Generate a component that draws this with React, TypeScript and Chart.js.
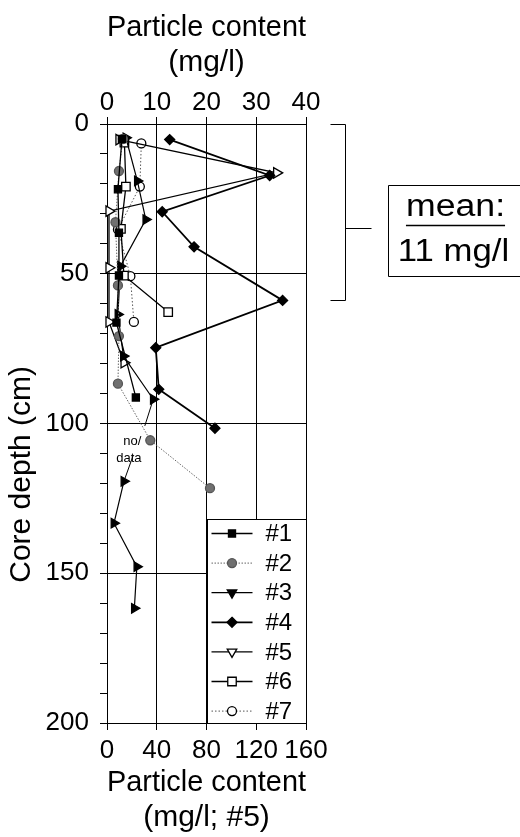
import React, { useEffect, useRef } from 'react';
import { Chart, registerables } from 'chart.js';

Chart.register(...registerables);

const FONT = "'Liberation Sans', Arial, Helvetica, sans-serif";

// ---- data (depth in cm, particle content in mg/l; #5 on its own 0-160 axis) ----
const depth1 = [5, 21.8, 36.3, 50.6, 66.3, 91.3];
const val1 = [3.0, 2.2, 2.4, 2.4, 1.9, 5.8];

const depth2 = [5, 15.7, 32.8, 53.9, 70.8, 86.7, 105.6, 121.6];
const val2 = [3.2, 2.4, 1.7, 2.2, 2.4, 2.2, 8.7, 20.7];

const depth3 = [4.6, 19, 31.9, 47.5, 63.6, 77.5, 91.9, null, 119.3, 133.3, 147.8, 161.7];
const val3 = [3.8, 6.1, 7.8, 2.7, 2.2, 3.3, 9.3, null, 3.4, 1.4, 6.0, 5.5];

const depth4 = [5.2, 17.2, 29.3, 41, 58.9, 74.7, 88.6, 101.6];
const val4 = [12.6, 32.7, 11.1, 17.5, 35.3, 9.8, 10.4, 21.7];

const depth5 = [5.2, 16.3, 29.1, 48, 66.1, 79.7];
const val5 = [9.6, 136.4, 1.6, 1.6, 1.6, 13.7];

const depth6 = [6.2, 20.9, 35, 50.6, 62.8];
const val6 = [3.5, 3.8, 2.8, 3.4, 12.3];

const depth7 = [6.5, 20.9, 35.2, 50.8, 66.1];
const val7 = [6.9, 6.6, 2.2, 4.7, 5.4];

const seriesLabels = ['#1', '#2', '#3', '#4', '#5', '#6', '#7'];
const topTitle = ['Particle content', '(mg/l)'];
const bottomTitle = ['Particle content', '(mg/l; #5)'];
const yTitle = 'Core depth (cm)';
const noDataLines = ['no/', 'data'];
const meanLines = ['mean:', '11 mg/l'];
const meanDepthRange = [0, 58.8];
const meanTickDepth = 34.6;

// annotation anchors in data units
const noDataAnchors = [[5.1, 105.9], [4.4, 111.6]];
const stubSegments = [
  [[9.3, 91.9], [7.6, 100.8]],
  [[5.3, 110.5], [3.4, 119.3]],
];
const yTitleDepth = 117;

const pts = (d: (number | null)[], v: (number | null)[]) =>
  d.map((y, i) => ({ x: v[i] as any, y: y as any }));

type Sty = { shape: string; fill: string; stroke: string; r: number; rot: number; legendRot: number; dash: number[]; lineColor: string; lw: number };
const styles: Sty[] = [
  { shape: 'rect', fill: '#000', stroke: '#000', r: 5, rot: 0, legendRot: 0, dash: [], lineColor: '#000', lw: 1.3 },
  { shape: 'circle', fill: '#707070', stroke: '#555', r: 4.5, rot: 0, legendRot: 0, dash: [1.5, 1.5], lineColor: '#666', lw: 1 },
  { shape: 'triangle', fill: '#000', stroke: '#000', r: 5.5, rot: 90, legendRot: 180, dash: [], lineColor: '#000', lw: 1.2 },
  { shape: 'rectRot', fill: '#000', stroke: '#000', r: 5, rot: 0, legendRot: 0, dash: [], lineColor: '#000', lw: 1.8 },
  { shape: 'triangle', fill: '#fff', stroke: '#000', r: 6, rot: 90, legendRot: 180, dash: [], lineColor: '#000', lw: 1.3 },
  { shape: 'rect', fill: '#fff', stroke: '#000', r: 6, rot: 0, legendRot: 0, dash: [], lineColor: '#000', lw: 1.3 },
  { shape: 'circle', fill: '#fff', stroke: '#000', r: 4.5, rot: 0, legendRot: 0, dash: [1.5, 2], lineColor: '#555', lw: 1 },
];

function drawMarker(ctx: CanvasRenderingContext2D, s: Sty, x: number, y: number, rotDeg: number, r: number) {
  ctx.save();
  ctx.beginPath();
  ctx.setLineDash([]);
  ctx.lineWidth = 1.3;
  ctx.fillStyle = s.fill;
  ctx.strokeStyle = s.stroke;
  if (s.shape === 'circle') {
    ctx.arc(x, y, r, 0, Math.PI * 2);
  } else if (s.shape === 'rect') {
    const h = r * Math.SQRT1_2;
    ctx.rect(x - h, y - h, 2 * h, 2 * h);
  } else if (s.shape === 'rectRot') {
    ctx.moveTo(x, y - r); ctx.lineTo(x + r, y); ctx.lineTo(x, y + r); ctx.lineTo(x - r, y); ctx.closePath();
  } else if (s.shape === 'triangle') {
    let rad = (rotDeg * Math.PI) / 180;
    for (let k = 0; k < 3; k++) {
      const px = x + Math.sin(rad) * r;
      const py = y - Math.cos(rad) * r;
      if (k === 0) ctx.moveTo(px, py); else ctx.lineTo(px, py);
      rad += (2 * Math.PI) / 3;
    }
    ctx.closePath();
  }
  ctx.fill();
  ctx.stroke();
  ctx.restore();
}

const overlay = {
  id: 'overlay',
  afterDraw(chart: any) {
    const { ctx, chartArea: ca, scales } = chart;
    const xs = scales.x;
    const ys = scales.y;
    ctx.save();

    // y axis title
    ctx.save();
    ctx.translate(21.5, ys.getPixelForValue(yTitleDepth));
    ctx.rotate(-Math.PI / 2);
    ctx.fillStyle = '#000';
    ctx.font = `30px ${FONT}`;
    ctx.textAlign = 'center';
    ctx.textBaseline = 'middle';
    ctx.fillText(yTitle, 0, 0);
    ctx.restore();

    // no-data stubs
    ctx.strokeStyle = '#000';
    ctx.lineWidth = 1;
    for (const seg of stubSegments) {
      ctx.beginPath();
      ctx.moveTo(xs.getPixelForValue(seg[0][0]), ys.getPixelForValue(seg[0][1]));
      ctx.lineTo(xs.getPixelForValue(seg[1][0]), ys.getPixelForValue(seg[1][1]));
      ctx.stroke();
    }
    ctx.fillStyle = '#000';
    ctx.font = `13px ${FONT}`;
    ctx.textAlign = 'center';
    ctx.textBaseline = 'middle';
    noDataLines.forEach((t, i) => {
      ctx.fillText(t, xs.getPixelForValue(noDataAnchors[i][0]), ys.getPixelForValue(noDataAnchors[i][1]));
    });

    // legend box inside plot
    const lx0 = Math.round(xs.getPixelForValue(20)) + 0.5;
    const lx1 = Math.round(ca.right) + 0.5;
    const ly0 = Math.round(ys.getPixelForValue(132)) + 0.5;
    const ly1 = Math.round(ca.bottom) + 0.5;
    ctx.fillStyle = '#fff';
    ctx.fillRect(lx0, ly0, lx1 - lx0, ly1 - ly0);
    ctx.strokeStyle = '#000';
    ctx.lineWidth = 1;
    ctx.strokeRect(lx0, ly0, lx1 - lx0, ly1 - ly0);
    seriesLabels.forEach((lab, i) => {
      const s = styles[i];
      const y = ly0 + 14 + i * 29.6;
      ctx.save();
      ctx.strokeStyle = s.lineColor;
      ctx.lineWidth = s.lw;
      ctx.setLineDash(s.dash);
      ctx.beginPath();
      ctx.moveTo(lx0 + 4, y);
      ctx.lineTo(lx0 + 45, y);
      ctx.stroke();
      ctx.restore();
      drawMarker(ctx, s, lx0 + 24.5, y, s.legendRot, s.shape === 'triangle' ? 5.5 : s.r);
      ctx.fillStyle = '#000';
      ctx.font = `24px ${FONT}`;
      ctx.textAlign = 'left';
      ctx.textBaseline = 'middle';
      ctx.fillText(lab, lx0 + 58, y + 1);
    });

    // bracket marking the depth range of the mean
    const bx = Math.round(ca.right + 39) + 0.5;
    const by0 = Math.round(ys.getPixelForValue(meanDepthRange[0])) + 0.5;
    const by1 = Math.round(ys.getPixelForValue(meanDepthRange[1])) + 0.5;
    const bmid = Math.round(ys.getPixelForValue(meanTickDepth)) + 0.5;
    ctx.strokeStyle = '#000';
    ctx.lineWidth = 1;
    ctx.beginPath();
    ctx.moveTo(bx - 15, by0); ctx.lineTo(bx, by0); ctx.lineTo(bx, by1); ctx.lineTo(bx - 15, by1);
    ctx.moveTo(bx, bmid); ctx.lineTo(bx + 26, bmid);
    ctx.stroke();

    // mean box
    const boxL = bx + 43;
    const boxT = bmid - 43;
    const boxB = bmid + 48;
    ctx.beginPath();
    ctx.moveTo(chart.width + 5, boxT); ctx.lineTo(boxL, boxT); ctx.lineTo(boxL, boxB); ctx.lineTo(chart.width + 5, boxB);
    ctx.stroke();
    const cx = boxL + 67;
    ctx.fillStyle = '#000';
    ctx.font = `31px ${FONT}`;
    ctx.textBaseline = 'alphabetic';
    ctx.textAlign = 'center';
    const w0 = ctx.measureText(meanLines[0]).width * 1.15;
    ctx.save(); ctx.translate(cx, boxT + 30); ctx.scale(1.15, 1); ctx.fillText(meanLines[0], 0, 0); ctx.restore();
    ctx.save(); ctx.translate(cx - 2, boxT + 75); ctx.scale(1.12, 1); ctx.fillText(meanLines[1], 0, 0); ctx.restore();
    ctx.lineWidth = 1.6;
    ctx.beginPath();
    ctx.moveTo(cx - w0 / 2, boxT + 40); ctx.lineTo(cx + w0 / 2, boxT + 40);
    ctx.stroke();

    ctx.restore();
  },
};

export default function App() {
  const ref = useRef<HTMLCanvasElement | null>(null);
  useEffect(() => {
    if (!ref.current) return;
    Chart.defaults.font.family = FONT;
    Chart.defaults.color = '#000';
    const series = [
      pts(depth1, val1), pts(depth2, val2), pts(depth3, val3), pts(depth4, val4),
      pts(depth5, val5), pts(depth6, val6), pts(depth7, val7),
    ];
    const datasets = series.map((data, i) => {
      const s = styles[i];
      return {
        label: seriesLabels[i],
        data,
        xAxisID: i === 4 ? 'x5' : 'x',
        yAxisID: 'y',
        showLine: true,
        spanGaps: false,
        clip: 10,
        borderColor: s.lineColor,
        borderWidth: s.lw,
        borderDash: s.dash,
        pointStyle: s.shape,
        pointRotation: s.rot,
        pointRadius: s.r,
        pointBackgroundColor: s.fill,
        pointBorderColor: s.stroke,
        pointBorderWidth: 1.3,
        tension: 0,
      };
    });
    const tickFont = { size: 26, lineHeight: 1 };
    const titleFont = { size: 30, lineHeight: 35 / 30 };
    const chart = new Chart(ref.current, {
      type: 'scatter',
      data: { datasets: datasets as any },
      plugins: [overlay],
      options: {
        responsive: false,
        maintainAspectRatio: false,
        animation: false,
        layout: { padding: { left: 0, right: 214, top: 0, bottom: 0 } },
        plugins: { legend: { display: false }, tooltip: { enabled: false } },
        scales: {
          x: {
            type: 'linear', position: 'top', min: 0, max: 40,
            ticks: { stepSize: 10, font: tickFont, color: '#000', padding: 1, maxRotation: 0, autoSkip: false },
            grid: { color: '#000', lineWidth: 1, tickLength: 7, tickColor: '#000' },
            border: { display: true, color: '#000', width: 1 },
            title: { display: true, text: topTitle, font: titleFont, color: '#000', padding: { top: 10, bottom: 0 } },
            afterFit: (s: any) => { s.height = 124; },
          },
          x5: {
            type: 'linear', position: 'bottom', min: 0, max: 160,
            ticks: { stepSize: 40, font: tickFont, color: '#000', padding: 8, maxRotation: 0, autoSkip: false },
            grid: { drawOnChartArea: false, color: '#000', tickLength: 7, tickColor: '#000' },
            border: { display: true, color: '#000', width: 1 },
            title: { display: true, text: bottomTitle, font: titleFont, color: '#000', padding: { top: 0, bottom: 1.5 } },
            afterFit: (s: any) => { s.height = 114; },
          },
          y: {
            type: 'linear', position: 'left', reverse: true, min: 0, max: 200,
            ticks: {
              stepSize: 10, font: tickFont, color: '#000', padding: 11, autoSkip: false,
              callback: (v: any) => (Number(v) % 50 === 0 ? String(v) : ''),
            },
            grid: {
              color: (c: any) => (c.tick && c.tick.value % 50 === 0 ? '#000' : 'rgba(0,0,0,0)'),
              tickColor: '#000', tickLength: 7, lineWidth: 1,
            },
            border: { display: true, color: '#000', width: 1 },
            title: { display: false, text: yTitle },
            afterFit: (s: any) => { s.width = 107; },
          },
        },
      } as any,
    });
    return () => chart.destroy();
  }, []);
  return (
    <div style={{ position: 'absolute', left: 0, top: 0, width: 520, height: 837, background: '#fff' }}>
      <canvas ref={ref} width={520} height={837} style={{ display: 'block', width: 520, height: 837 }} />
    </div>
  );
}
